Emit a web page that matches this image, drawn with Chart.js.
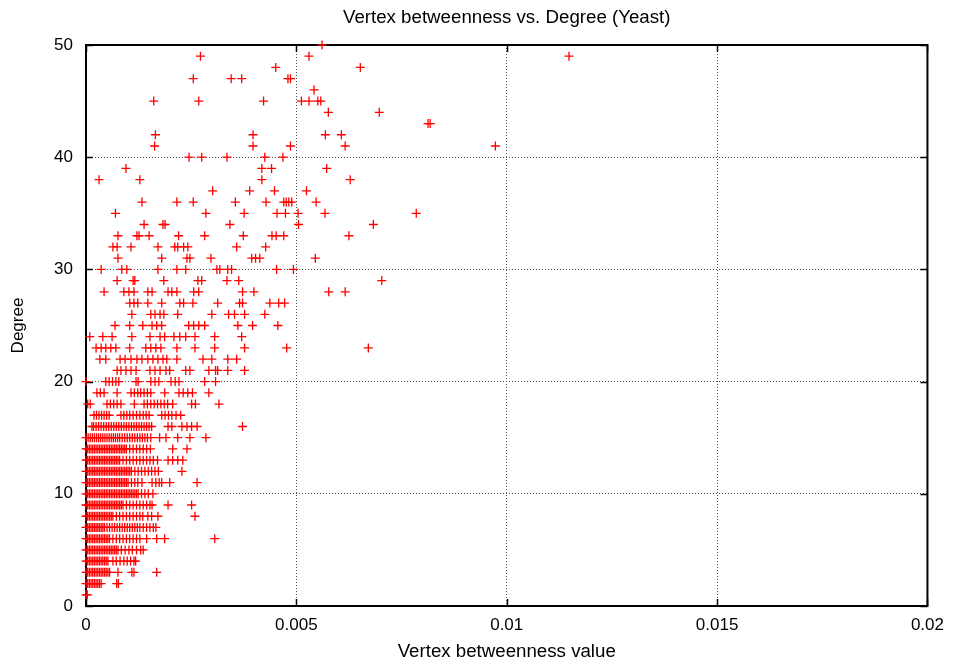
<!DOCTYPE html>
<html>
<head>
<meta charset="utf-8">
<title>Vertex betweenness vs. Degree (Yeast)</title>
<script src="https://cdn.jsdelivr.net/npm/chart.js@4.4.1/dist/chart.umd.min.js"></script>
<style>
  html, body { margin: 0; padding: 0; background: #fff; }
  #wrap { width: 953px; height: 665px; }
</style>
</head>
<body>
<div id="wrap"><canvas id="scatter" width="953" height="665"></canvas></div>
<script>
// Grado de cada fila de puntos
const degrees = [
   1,  2,  3,  4,  5,  6,  7,  8,  9, 10,
  11, 12, 13, 14, 15, 16, 17, 18, 19, 20,
  21, 22, 23, 24, 25, 26, 27, 28, 29, 30,
  31, 32, 33, 34, 35, 36, 37, 38, 39, 40,
  41, 42, 43, 44, 45, 46, 47, 48, 49, 50
];

// Betweenness de los vertices de cada grado, en unidades de 1e-4
const betweennessE4 = [
  [0, 0.3],
  [0, 0.4, 0.8, 1.2, 1.6, 2, 2.4, 2.8, 3.2, 3.6, 7.3, 7.7],
  [0, 0.4, 0.8, 1.2, 1.6, 2, 2.4, 2.8, 3.2, 3.6, 4, 4.4, 4.8, 5.2, 5.6, 7.6, 10.9, 11.4, 16.8],
  [0, 0.4, 0.8, 1.2, 1.6, 2, 2.4, 2.8, 3.2, 3.6, 4, 4.4, 4.8, 5.2, 6.4, 7.2, 8.1, 9, 9.8, 10.6, 11.4, 11.8],
  [0, 0.4, 0.8, 1.2, 1.6, 2, 2.4, 2.8, 3.2, 3.6, 4, 4.4, 4.8, 5.2, 5.6, 6, 6.4, 6.8, 7.2, 7.6, 8.4, 9.3, 10.2, 11, 12, 13, 13.6],
  [0, 0.4, 0.8, 1.2, 1.6, 2, 2.4, 2.8, 3.2, 3.6, 4, 4.4, 4.8, 5.2, 5.6, 6.4, 7.2, 8, 8.8, 9.6, 10.4, 11.2, 12, 12.8, 14.4, 16.8, 18.7, 30.6],
  [0, 0.4, 0.8, 1.2, 1.6, 2, 2.4, 2.8, 3.2, 3.6, 4, 4.4, 5, 5.6, 6.2, 6.8, 7.4, 8, 8.6, 9.2, 9.8, 10.4, 11, 11.6, 12.2, 12.8, 13.6, 14.4, 15.2, 16, 16.6],
  [0, 0.4, 0.8, 1.2, 1.6, 2, 2.4, 2.8, 3.2, 3.6, 4, 4.4, 4.8, 5.2, 5.6, 6, 6.4, 7.2, 8, 8.8, 9.6, 10.4, 11.2, 12, 12.8, 13.5, 14.7, 15.6, 17.1, 25.9],
  [0, 0.4, 0.8, 1.2, 1.6, 2, 2.4, 2.8, 3.2, 3.6, 4, 4.4, 4.8, 5.2, 5.6, 6, 6.4, 6.8, 7.2, 7.6, 8, 8.4, 8.8, 9.6, 10.4, 11.2, 12, 12.8, 13.6, 14.4, 15.2, 15.7, 19.5, 25.1],
  [0, 0.4, 0.8, 1.2, 1.6, 2, 2.4, 2.8, 3.2, 3.6, 4, 4.4, 4.8, 5.2, 5.6, 6, 6.4, 6.8, 7.2, 7.6, 8, 8.4, 8.8, 9.2, 9.6, 10, 10.4, 10.8, 11.2, 11.6, 12, 12.4, 13.2, 14, 14.8, 15.9],
  [0, 0.4, 0.8, 1.2, 1.6, 2, 2.4, 2.8, 3.2, 3.6, 4, 4.4, 4.8, 5.2, 5.6, 6, 6.4, 6.8, 7.2, 7.6, 8, 8.4, 8.8, 9.2, 9.6, 10, 10.8, 11.6, 12.3, 13.3, 15.7, 16.6, 17.4, 18, 19.9, 26.4],
  [0, 0.4, 0.8, 1.2, 1.6, 2, 2.4, 2.8, 3.2, 3.6, 4, 4.4, 4.8, 5.2, 5.6, 6, 6.4, 6.8, 7.2, 7.6, 8, 8.4, 8.8, 9.2, 9.6, 10, 10.4, 10.8, 11.6, 12.4, 13.2, 14, 14.8, 15.6, 16.4, 17.2, 22.8],
  [0, 0.4, 0.8, 1.2, 1.6, 2, 2.4, 2.8, 3.2, 3.6, 4, 4.4, 4.8, 5.2, 5.6, 6, 6.4, 6.8, 7.2, 7.6, 8, 8.8, 9.6, 10.4, 11.2, 12, 12.8, 13.6, 14.4, 15.2, 16, 17, 19.5, 20.6, 21.8, 23],
  [0, 0.4, 0.8, 1.2, 1.6, 2, 2.4, 2.8, 3.2, 3.6, 4, 4.4, 4.8, 5.2, 5.6, 6, 6.4, 6.8, 7.2, 7.6, 8, 8.4, 8.8, 9.2, 9.6, 10.4, 11.2, 12, 12.8, 13.6, 14.4, 15.3, 20.6, 24],
  [0, 0.5, 1, 1.5, 2, 2.5, 3, 3.5, 4, 4.5, 5, 5.5, 6, 6.5, 7, 7.5, 8, 8.6, 9.2, 9.8, 10.4, 11, 11.6, 12.2, 12.8, 13.4, 14, 14.6, 15.4, 17.5, 19, 21.8, 24.7, 28.5],
  [1.4, 1.8, 2.4, 3, 3.6, 4.2, 4.8, 5.4, 6, 6.6, 7.2, 7.8, 8.4, 9, 9.6, 10.2, 10.8, 11.4, 12, 12.6, 13.2, 13.8, 14.4, 15, 15.6, 19.5, 20.4, 22.8, 24, 25.1, 26.4, 37.2],
  [1.9, 2.5, 3.1, 3.7, 4.3, 4.9, 5.5, 8.3, 9, 9.7, 10.4, 11.2, 12, 12.8, 13.6, 14.3, 15, 18, 18.8, 19.6, 20.4, 21.4, 22.5],
  [0.4, 1, 5, 5.8, 6.6, 7.4, 8.3, 11.5, 13.8, 14.6, 15.4, 16.2, 17, 17.8, 18.6, 19.4, 20.6, 25.1, 26, 31.6],
  [2.6, 3.4, 4.3, 7.4, 10.7, 11.5, 12.3, 13, 13.8, 14.6, 15.4, 18.7, 22.1, 23.1, 24.2, 25.3, 29.2],
  [0, 4.7, 5.5, 6.3, 7.1, 7.8, 11.9, 12.4, 15.4, 16.4, 17.3, 20.2, 21.2, 22.1, 28.2, 30.8],
  [7.4, 8.3, 9.5, 10.7, 11.9, 15.2, 16.4, 17.6, 19, 19.9, 23.7, 24.7, 29.2, 30.8, 31.3, 33.7, 37.7],
  [3.3, 4.7, 8.1, 9.3, 10.7, 12.1, 13.3, 14.7, 15.9, 17.1, 18.3, 19.2, 21.6, 27.8, 29.9, 33.7, 35.8],
  [2.4, 3.6, 4.7, 5.9, 7.1, 10.4, 14.2, 15.4, 16.6, 17.8, 21.6, 25.9, 30.6, 37.7, 47.7, 67.1],
  [0.9, 4, 6.2, 10.9, 15.2, 17.6, 18.7, 20.9, 22.3, 23.7, 25.9, 30.6, 37],
  [6.9, 10.4, 13.5, 15.7, 16.8, 18, 24.4, 25.6, 26.8, 28.2, 36.1, 39.6, 45.6],
  [10.9, 15.4, 16.4, 17.6, 18.5, 21.8, 29.9, 33.9, 35.3, 37.7, 42.5],
  [10.4, 11.4, 12.3, 14.7, 18, 22.3, 23.2, 25.4, 31.3, 36.5, 37.2, 43.7, 45.8, 47.2],
  [4.3, 9, 10.2, 11.4, 14.7, 15.7, 19.5, 20.4, 21.6, 25.6, 26.8, 37.2, 39.9, 57.7, 61.6],
  [7.4, 11.2, 11.6, 18.5, 26.6, 27.5, 33.5, 36.3, 70.3],
  [3.6, 8.5, 9.7, 17.1, 21.6, 23.7, 31.1, 31.8, 33.7, 34.6, 45.3, 49.3],
  [7.6, 18, 24, 24.7, 29.7, 39.4, 40.3, 41.3, 54.5],
  [6.4, 7.4, 10.7, 17.1, 21.1, 21.8, 23.2, 24.2, 35.8, 42.7],
  [7.6, 12.1, 12.6, 15, 22, 28.2, 37.4, 44.2, 45.2, 47, 62.5],
  [13.8, 18.3, 18.8, 34.2, 50.5, 68.3],
  [7, 28.5, 37.6, 45.4, 47.4, 50.4, 56.8, 78.5],
  [13.3, 21.6, 25.5, 35.5, 42.8, 47, 47.6, 48.2, 48.9, 54.7],
  [30.1, 38.9, 44.8, 52.4],
  [3.1, 12.8, 41.8, 62.8],
  [9.5, 41.8, 44.1, 57.2],
  [24.5, 27.5, 33.5, 42.5, 46.8],
  [16.3, 39.7, 48.6, 61.6, 97.3],
  [16.5, 39.7, 56.9, 60.7],
  [81.3, 81.8],
  [57.6, 69.7],
  [16.1, 26.8, 42.2, 51.2, 53, 55.1, 55.8],
  [54.2],
  [25.5, 34.5, 37, 48, 48.6],
  [45.1, 65.2],
  [27.2, 53, 114.8],
  [56.1]
];

const xTickLabels = ['0', '0.005', '0.01', '0.015', '0.02'];
const yTickLabels = ['0', '10', '20', '30', '40', '50'];

Chart.defaults.font.family = "'Liberation Sans', Arial, Helvetica, sans-serif";
Chart.defaults.font.size = 17;
Chart.defaults.color = '#000';

// puntos (x = betweenness, y = grado)
const puntos = [];
degrees.forEach((d, i) => {
  betweennessE4[i].forEach(v => puntos.push({ x: v / 10000, y: d }));
});

// marco negro y marcas hacia adentro, estilo gnuplot
const marcoGnuplot = {
  id: 'marcoGnuplot',
  beforeDatasetsDraw(chart) {
    const { ctx, chartArea: a, scales: { x, y } } = chart;
    ctx.save();
    ctx.strokeStyle = '#000';
    ctx.lineWidth = 1.5;
    ctx.beginPath();
    x.ticks.forEach(t => {
      const px = Math.round(x.getPixelForValue(t.value)) + 0.5;
      ctx.moveTo(px, a.bottom); ctx.lineTo(px, a.bottom - 7);
      ctx.moveTo(px, a.top); ctx.lineTo(px, a.top + 7);
    });
    y.ticks.forEach(t => {
      const py = Math.round(y.getPixelForValue(t.value)) + 0.5;
      ctx.moveTo(a.left, py); ctx.lineTo(a.left + 7, py);
      ctx.moveTo(a.right, py); ctx.lineTo(a.right - 7, py);
    });
    ctx.stroke();
    ctx.lineWidth = 2;
    ctx.strokeRect(a.left, a.top, a.right - a.left, a.bottom - a.top);
    ctx.restore();
  }
};

new Chart(document.getElementById('scatter'), {
  type: 'scatter',
  data: {
    datasets: [{
      data: puntos,
      xAxisID: 'x',
      yAxisID: 'y',
      pointStyle: 'cross',
      pointRadius: 4.5,
      pointHoverRadius: 4.5,
      borderWidth: 1.3,
      borderColor: '#ff0000',
      backgroundColor: '#ff0000',
      clip: false
    }]
  },
  options: {
    responsive: false,
    animation: false,
    layout: { padding: { left: 0, right: 24, top: 0, bottom: 0 } },
    plugins: {
      legend: { display: false },
      tooltip: { enabled: false },
      title: { display: false }
    },
    scales: {
      x: {
        type: 'linear',
        position: 'bottom',
        min: 0,
        max: 0.02,
        ticks: { stepSize: 0.005, padding: 9, callback: (v, i) => xTickLabels[i] },
        grid: { color: '#555', lineWidth: 1, drawTicks: false },
        border: { display: false, dash: [1, 2] },
        title: { display: true, text: 'Vertex betweenness value', font: { size: 18.7 }, padding: { top: 0, bottom: 2 } },
        afterFit: s => { s.height = 59; }
      },
      // eje superior solo para el titulo, centrado sobre el area del grafico
      xTop: {
        type: 'linear',
        position: 'top',
        min: 0,
        max: 1,
        ticks: { display: false },
        grid: { display: false },
        border: { display: false },
        title: { display: true, text: 'Vertex betweenness vs. Degree (Yeast)', font: { size: 18.7 }, padding: { top: 7, bottom: 0 } },
        afterFit: s => { s.height = 45; }
      },
      y: {
        type: 'linear',
        min: 0,
        max: 50,
        ticks: { stepSize: 10, padding: 13, callback: (v, i) => yTickLabels[i] },
        grid: { color: '#555', lineWidth: 1, drawTicks: false },
        border: { display: false, dash: [1, 2] },
        title: { display: true, text: 'Degree', font: { size: 17 }, padding: { top: 8, bottom: 0 } },
        afterFit: s => { s.width = 86; }
      }
    }
  },
  plugins: [marcoGnuplot]
});
</script>
</body>
</html>
